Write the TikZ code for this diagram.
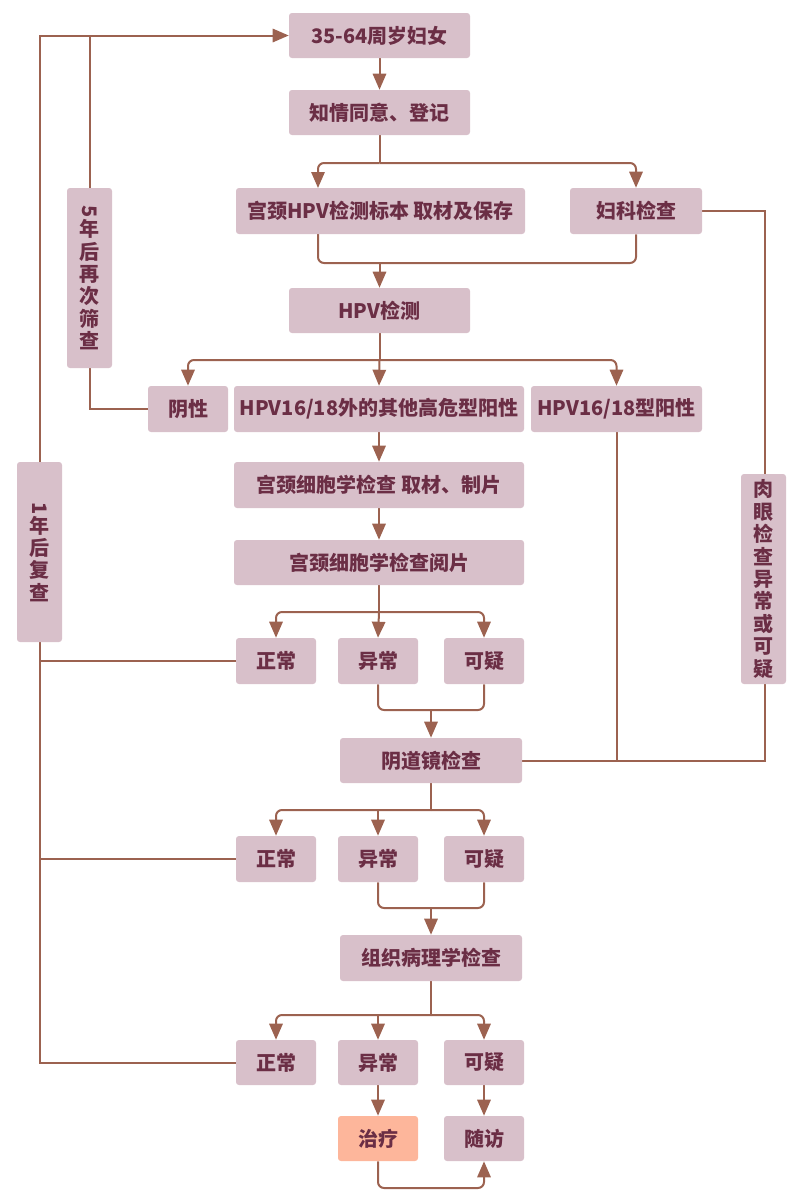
\documentclass[tikz,border=0pt]{standalone}
\usepackage{fontspec}
\usepackage{graphicx}
\setmainfont{Noto Sans CJK SC}
\usetikzlibrary{arrows.meta,backgrounds}
\definecolor{boxc}{HTML}{D8C0CA}
\definecolor{txtc}{HTML}{6B2E45}
\definecolor{linec}{HTML}{9C6250}
\definecolor{treatc}{HTML}{FDB69B}
\tikzset{
  box/.style={rectangle, rounded corners=2.2pt, fill=boxc, text=txtc, inner sep=0pt,
    font=\fontsize{15}{17}\selectfont\bfseries},
  sz/.style 2 args={minimum width=#1*0.75pt, minimum height=#2*0.75pt},
  vbox/.style={box, align=center, font=\fontsize{15}{16.8}\selectfont\bfseries},
  conn/.style={draw=linec, line width=1.5pt},
  arr/.style={conn, -{Triangle[width=10pt,length=12pt]}},
  rc/.style={rounded corners=4.5pt}
}
\begin{document}
\begin{tikzpicture}[x=0.75pt,y=-0.75pt]
\useasboundingbox (0,0) rectangle (800,1204);
% main nodes
\node[box,sz={181}{45}] (A) at (379.5,35.5) {35-64周岁妇女};
\node[box,sz={181}{45}] (B) at (379.5,112.5) {知情同意、登记};
\node[box,sz={289}{46}] (C) at (380.5,211) {宫颈HPV检测标本 取材及保存};
\node[box,sz={132}{46}] (D) at (636,211) {妇科检查};
\node[box,sz={181}{45}] (E) at (379.5,310.5) {HPV检测};
\node[box,sz={80}{46}] (F) at (188,409) {阴性};
\node[box,sz={290}{46}] (G) at (379,409) {HPV16/18外的其他高危型阳性};
\node[box,sz={171}{46}] (H) at (616.5,409) {HPV16/18型阳性};
\node[box,sz={290}{46}] (I) at (379,485) {宫颈细胞学检查 取材、制片};
\node[box,sz={290}{45}] (J) at (379,562.5) {宫颈细胞学检查阅片};
\node[box,sz={80}{46}] (K1) at (276,661) {正常};
\node[box,sz={80}{46}] (K2) at (378,661) {异常};
\node[box,sz={80}{46}] (K3) at (484,661) {可疑};
\node[box,sz={182}{45}] (L) at (431,760.5) {阴道镜检查};
\node[box,sz={80}{46}] (M1) at (276,859) {正常};
\node[box,sz={80}{46}] (M2) at (378,859) {异常};
\node[box,sz={80}{46}] (M3) at (484,859) {可疑};
\node[box,sz={182}{46}] (N) at (431,958) {组织病理学检查};
\node[box,sz={80}{45}] (P1) at (276,1062.5) {正常};
\node[box,sz={80}{45}] (P2) at (378,1062.5) {异常};
\node[box,sz={80}{45}] (P3) at (484,1062.5) {可疑};
\node[box,sz={80}{45},fill=treatc] (Q1) at (378,1138.5) {治疗};
\node[box,sz={80}{45}] (Q2) at (484,1138.5) {随访};
% vertical label boxes
\node[vbox,sz={45}{180}] (V5) at (89.5,278) {\rotatebox{-90}{5}\\年\\后\\再\\次\\筛\\查};
\node[vbox,sz={45}{180}] (V1) at (39.5,552) {\rotatebox{-90}{1}\\年\\后\\复\\查};
\node[vbox,sz={45}{210}] (VR) at (763.5,579) {肉\\眼\\检\\查\\异\\常\\或\\可\\疑};
% coordinates
\coordinate (tl) at (40,35.5);
\coordinate (t5) at (89.5,35.5);
\coordinate (b1) at (379.5,163);
\coordinate (cT) at (318,188);
\coordinate (cB) at (318,234);
\coordinate (m1) at (379.5,263);
\coordinate (b2) at (379.5,360);
\coordinate (b3) at (379,612);
\coordinate (m2) at (431,710);
\coordinate (r1) at (765,760.5);
\coordinate (b4) at (431,810);
\coordinate (m3) at (431,908);
\coordinate (b5) at (431,1015);
\coordinate (m4) at (431,1188);
\begin{pgfonlayer}{background}
% left loops
\draw[arr] (P1.west) -| (tl) -- (A.west);
\draw[conn] (K1.west) -- (K1.west -| tl);
\draw[conn] (M1.west) -- (M1.west -| tl);
\draw[conn] (F.west) -| (t5);
% top
\draw[arr] (A.south) -- (B.north);
\draw[conn] (B.south) -- (b1);
\draw[arr,rc] (b1) -| (cT);
\draw[arr,rc] (b1) -| (D.north);
\draw[conn,rc] (cB) |- (m1) -| (D.south);
\draw[arr] (m1) -- (E.north);
% HPV branch
\draw[conn] (E.south) -- (b2);
\draw[arr,rc] (b2) -| (F.north);
\draw[arr] (b2) -- (G.north);
\draw[arr,rc] (b2) -| (H.north);
\draw[arr] (G.south) -- (I.north);
\draw[arr] (I.south) -- (J.north);
% cytology branch
\draw[conn] (J.south) -- (b3);
\draw[arr,rc] (b3) -| (K1.north);
\draw[arr] (b3) -- (K2.north);
\draw[arr,rc] (b3) -| (K3.north);
\draw[conn,rc] (K2.south) |- (m2) -| (K3.south);
\draw[arr] (m2) -- (L.north);
% right side into colposcopy
\draw[conn] (D.east) -| (r1) -- (L.east);
\draw[conn] (H.south) -- (H.south |- L.east);
% colposcopy branch
\draw[conn] (L.south) -- (b4);
\draw[arr,rc] (b4) -| (M1.north);
\draw[arr] (M2.north |- b4) -- (M2.north);
\draw[arr,rc] (b4) -| (M3.north);
\draw[conn,rc] (M2.south) |- (m3) -| (M3.south);
\draw[arr] (m3) -- (N.north);
% pathology branch
\draw[conn] (N.south) -- (b5);
\draw[arr,rc] (b5) -| (P1.north);
\draw[arr] (P2.north |- b5) -- (P2.north);
\draw[arr,rc] (b5) -| (P3.north);
\draw[arr] (P2.south) -- (Q1.north);
\draw[arr] (P3.south) -- (Q2.north);
\draw[arr,rc] (Q1.south) |- (m4) -| (Q2.south);
\end{pgfonlayer}
\end{tikzpicture}
\end{document}
